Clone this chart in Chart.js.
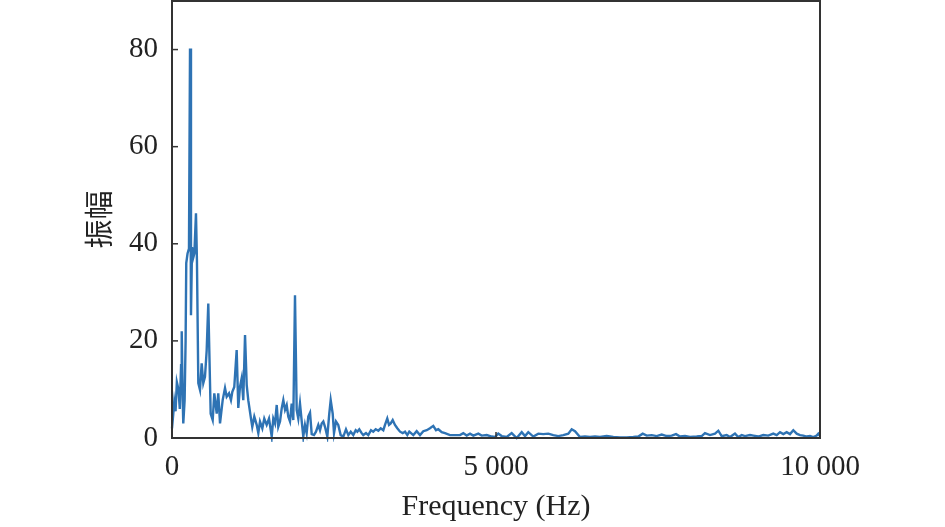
<!DOCTYPE html>
<html>
<head>
<meta charset="utf-8">
<script src="https://cdn.jsdelivr.net/npm/chart.js@4/dist/chart.umd.min.js"></script>
<style>
  html, body { margin: 0; padding: 0; background: #ffffff; }
  #wrap { width: 945px; height: 527px; position: relative; }
</style>
</head>
<body>
<div id="wrap"><canvas id="c"></canvas></div>
<script>
const frequency = [
  0, 20, 35, 55, 75, 100, 120, 140, 150, 165, 174, 195, 210, 220, 240, 262, 278, 293, 309, 325,
  345, 370, 385, 406, 432, 458, 483, 509, 535, 560, 597, 628, 653, 690, 714, 741, 782, 818, 844, 880,
  910, 931, 961, 998, 1023, 1049, 1075, 1100, 1127, 1153, 1177, 1219, 1239, 1270, 1307, 1332, 1358, 1394, 1424, 1461,
  1497, 1539, 1563, 1590, 1616, 1640, 1667, 1693, 1718, 1744, 1770, 1795, 1821, 1847, 1872, 1898, 1924, 1949, 1975, 2002,
  2026, 2052, 2078, 2103, 2130, 2156, 2191, 2222, 2258, 2284, 2310, 2335, 2361, 2397, 2427, 2449, 2480, 2500, 2531, 2566,
  2603, 2644, 2685, 2721, 2758, 2798, 2835, 2860, 2890, 2927, 2952, 2994, 3029, 3071, 3106, 3144, 3184, 3221, 3261, 3287,
  3322, 3349, 3375, 3406, 3441, 3477, 3519, 3560, 3596, 3631, 3662, 3724, 3776, 3827, 3878, 3931, 3981, 4032, 4074, 4110,
  4162, 4213, 4290, 4367, 4444, 4495, 4548, 4599, 4650, 4727, 4779, 4857, 4934, 4985, 5035, 5088, 5165, 5242, 5319, 5397,
  5448, 5498, 5576, 5653, 5730, 5807, 5884, 5961, 6039, 6116, 6168, 6219, 6296, 6373, 6451, 6528, 6605, 6708, 6810, 6914,
  7017, 7119, 7196, 7264, 7326, 7403, 7480, 7557, 7634, 7711, 7778, 7840, 7917, 7994, 8097, 8174, 8225, 8302, 8380, 8431,
  8483, 8560, 8611, 8688, 8739, 8792, 8843, 8920, 8971, 9048, 9125, 9202, 9279, 9332, 9383, 9434, 9486, 9537, 9588, 9640,
  9691, 9742, 9795, 9846, 9898, 9949, 9974, 10000
];
const amplitude = [
  2.0, 5.0, 7.5, 5.5, 11.5, 10.0, 6.0, 15.0, 22.0, 8.0, 3.0, 7.8, 20.0, 36.0, 38.0, 39.0, 80.2, 25.3, 39.3, 37.0,
  38.0, 46.3, 36.5, 11.3, 9.9, 15.4, 11.3, 12.6, 18.0, 27.7, 5.0, 3.7, 9.2, 5.0, 9.2, 3.0, 7.8, 10.3, 8.5, 9.2,
  7.8, 9.5, 10.5, 18.1, 6.2, 10.5, 12.3, 7.8, 21.2, 10.9, 7.8, 4.0, 2.3, 4.4, 2.7, 1.0, 3.4, 2.0, 4.0, 2.7,
  4.0, 0.3, 4.0, 3.0, 6.8, 2.3, 3.4, 6.1, 7.8, 5.8, 6.8, 4.4, 3.4, 7.1, 3.7, 29.4, 5.8, 4.0, 7.1, 3.4,
  0.3, 2.7, 1.0, 4.4, 5.2, 0.8, 0.6, 1.3, 2.7, 1.6, 3.0, 3.4, 2.3, 0.3, 5.0, 7.8, 5.0, 1.0, 3.4, 2.7,
  0.6, 0.3, 1.8, 0.6, 1.3, 0.6, 1.6, 1.3, 1.8, 1.0, 0.6, 1.0, 0.6, 1.6, 1.3, 1.8, 1.5, 2.0, 1.6, 2.7,
  4.0, 2.7, 3.0, 3.7, 2.7, 2.0, 1.3, 1.0, 1.3, 0.6, 1.3, 0.6, 1.4, 0.6, 1.4, 1.6, 2.0, 2.5, 1.6, 1.8,
  1.2, 1.0, 0.6, 0.6, 0.6, 1.0, 0.5, 0.9, 0.5, 0.9, 0.5, 0.6, 0.3, 0.2, 0.9, 0.4, 0.2, 1.0, 0.0, 1.2,
  0.4, 1.2, 0.3, 0.9, 0.8, 0.9, 0.6, 0.4, 0.6, 0.9, 1.8, 1.4, 0.2, 0.3, 0.2, 0.3, 0.2, 0.4, 0.2, 0.1,
  0.1, 0.2, 0.3, 0.9, 0.5, 0.6, 0.4, 0.7, 0.4, 0.5, 0.8, 0.3, 0.4, 0.2, 0.3, 0.4, 1.0, 0.6, 0.9, 1.5,
  0.4, 0.6, 0.2, 0.9, 0.2, 0.6, 0.4, 0.6, 0.5, 0.3, 0.6, 0.5, 0.9, 0.6, 1.2, 0.8, 1.2, 0.8, 1.6, 0.9,
  0.6, 0.5, 0.3, 0.4, 0.2, 0.5, 0.9, 0.4
];
const xTickValues = [0, 5000, 10000];
const xTickLabels = ['0', '5 000', '10 000'];
const yTickValues = [0, 20, 40, 60, 80];
const yTickLabels = ['0', '20', '40', '60', '80'];
const xTitle = 'Frequency (Hz)';
const yTitle = '振幅';

const points = frequency.map((f, i) => ({ x: f, y: amplitude[i] }));

const framePlugin = {
  id: 'frame',
  afterDraw(chart) {
    const { ctx, chartArea: { left, top, right, bottom }, scales: { x, y } } = chart;
    ctx.save();
    ctx.strokeStyle = '#333333';
    ctx.lineWidth = 1.5;
    y.ticks.forEach((t, i) => {
      const py = y.getPixelForTick(i);
      ctx.beginPath(); ctx.moveTo(left, py); ctx.lineTo(left + 6, py); ctx.stroke();
    });
    x.ticks.forEach((t, i) => {
      const px = x.getPixelForTick(i);
      ctx.beginPath(); ctx.moveTo(px, bottom); ctx.lineTo(px, bottom - 6); ctx.stroke();
    });
    ctx.lineWidth = 2;
    ctx.strokeRect(left, top, right - left, bottom - top);
    ctx.restore();
  }
};

const serif = "'Liberation Serif', 'Times New Roman', serif";

new Chart(document.getElementById('c'), {
  type: 'line',
  data: {
    datasets: [{
      data: points,
      borderColor: 'rgb(46,115,180)',
      borderWidth: 2.4,
      pointRadius: 0,
      tension: 0,
      fill: false,
      clip: 4
    }]
  },
  options: {
    responsive: true,
    maintainAspectRatio: false,
    animation: false,
    layout: { padding: { left: 0, top: 1, right: 125, bottom: 0 } },
    plugins: { legend: { display: false }, tooltip: { enabled: false } },
    scales: {
      x: {
        type: 'linear',
        min: 0, max: 10000,
        grid: { display: false, drawTicks: false },
        border: { display: false },
        afterBuildTicks: (s) => { s.ticks = xTickValues.map(v => ({ value: v })); },
        afterFit: (s) => { s.height = 89; s.paddingLeft = 0; s.paddingRight = 0; },
        ticks: {
          padding: 12,
          color: '#222222',
          font: { family: serif, size: 29 },
          maxRotation: 0,
          callback: (v) => { const i = xTickValues.indexOf(v); return i >= 0 ? xTickLabels[i] : ''; }
        },
        title: {
          display: true, text: xTitle, color: '#222222',
          font: { family: serif, size: 30, lineHeight: 1.2 },
          padding: { top: 0, bottom: 2 }
        }
      },
      y: {
        type: 'linear',
        min: 0, max: 90,
        grid: { display: false, drawTicks: false },
        border: { display: false },
        afterBuildTicks: (s) => { s.ticks = yTickValues.map(v => ({ value: v })); },
        afterFit: (s) => { s.width = 172; s.paddingTop = 0; s.paddingBottom = 0; },
        ticks: {
          padding: 14,
          color: '#222222',
          font: { family: serif, size: 29 },
          callback: (v) => { const i = yTickValues.indexOf(v); return i >= 0 ? yTickLabels[i] : ''; }
        },
        title: {
          display: true, text: yTitle, color: '#222222',
          font: { family: "'Noto Sans CJK SC', sans-serif", size: 29, lineHeight: 1.2 },
          padding: { top: 82, bottom: 0 }
        }
      }
    }
  },
  plugins: [framePlugin]
});
</script>
</body>
</html>
